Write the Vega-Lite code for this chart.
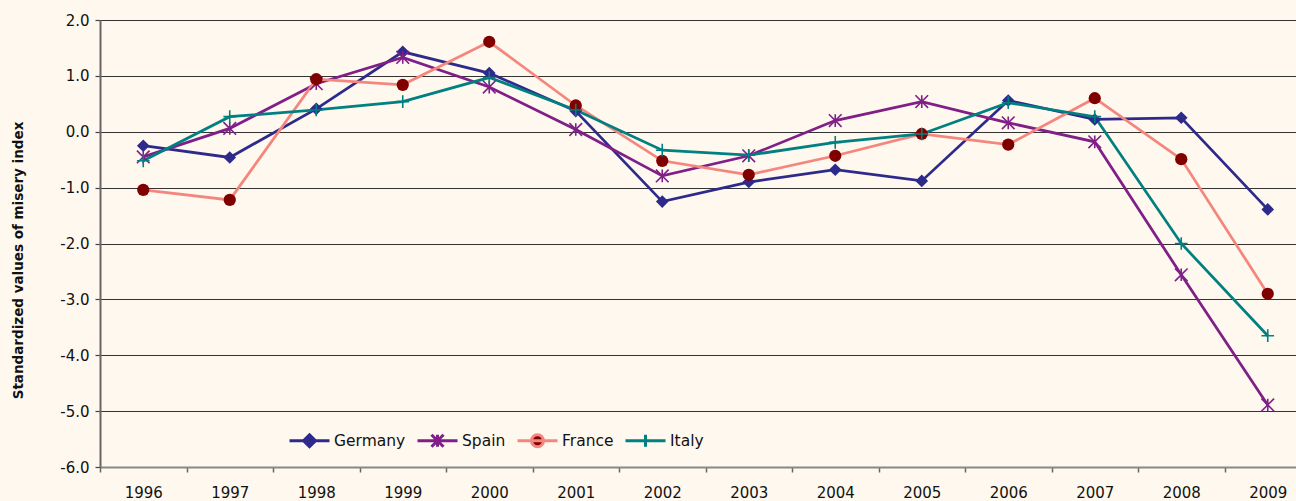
{
  "$schema": "https://vega.github.io/schema/vega-lite/v6.json",
  "width": 1196,
  "height": 447,
  "autosize": {"type": "none"},
  "padding": {"top": 20, "left": 100, "right": 0, "bottom": 34},
  "background": "#FEF8EE",
  "config": {
    "view": {"stroke": null},
    "font": "DejaVu Sans"
  },
  "data": {
    "values": [
      {"year": "1996", "country": "Germany", "value": -0.25},
      {"year": "1997", "country": "Germany", "value": -0.46},
      {"year": "1998", "country": "Germany", "value": 0.41},
      {"year": "1999", "country": "Germany", "value": 1.43},
      {"year": "2000", "country": "Germany", "value": 1.05},
      {"year": "2001", "country": "Germany", "value": 0.37},
      {"year": "2002", "country": "Germany", "value": -1.25},
      {"year": "2003", "country": "Germany", "value": -0.90},
      {"year": "2004", "country": "Germany", "value": -0.68},
      {"year": "2005", "country": "Germany", "value": -0.88},
      {"year": "2006", "country": "Germany", "value": 0.56},
      {"year": "2007", "country": "Germany", "value": 0.22},
      {"year": "2008", "country": "Germany", "value": 0.25},
      {"year": "2009", "country": "Germany", "value": -1.39},
      {"year": "1996", "country": "Spain", "value": -0.45},
      {"year": "1997", "country": "Spain", "value": 0.06},
      {"year": "1998", "country": "Spain", "value": 0.86},
      {"year": "1999", "country": "Spain", "value": 1.33},
      {"year": "2000", "country": "Spain", "value": 0.80},
      {"year": "2001", "country": "Spain", "value": 0.04},
      {"year": "2002", "country": "Spain", "value": -0.79},
      {"year": "2003", "country": "Spain", "value": -0.43},
      {"year": "2004", "country": "Spain", "value": 0.20},
      {"year": "2005", "country": "Spain", "value": 0.54},
      {"year": "2006", "country": "Spain", "value": 0.16},
      {"year": "2007", "country": "Spain", "value": -0.18},
      {"year": "2008", "country": "Spain", "value": -2.56},
      {"year": "2009", "country": "Spain", "value": -4.89},
      {"year": "1996", "country": "France", "value": -1.04},
      {"year": "1997", "country": "France", "value": -1.22},
      {"year": "1998", "country": "France", "value": 0.94},
      {"year": "1999", "country": "France", "value": 0.84},
      {"year": "2000", "country": "France", "value": 1.61},
      {"year": "2001", "country": "France", "value": 0.47},
      {"year": "2002", "country": "France", "value": -0.52},
      {"year": "2003", "country": "France", "value": -0.77},
      {"year": "2004", "country": "France", "value": -0.43},
      {"year": "2005", "country": "France", "value": -0.04},
      {"year": "2006", "country": "France", "value": -0.23},
      {"year": "2007", "country": "France", "value": 0.60},
      {"year": "2008", "country": "France", "value": -0.49},
      {"year": "2009", "country": "France", "value": -2.90},
      {"year": "1996", "country": "Italy", "value": -0.52},
      {"year": "1997", "country": "Italy", "value": 0.27},
      {"year": "1998", "country": "Italy", "value": 0.39},
      {"year": "1999", "country": "Italy", "value": 0.54},
      {"year": "2000", "country": "Italy", "value": 0.97},
      {"year": "2001", "country": "Italy", "value": 0.39},
      {"year": "2002", "country": "Italy", "value": -0.33},
      {"year": "2003", "country": "Italy", "value": -0.42},
      {"year": "2004", "country": "Italy", "value": -0.19},
      {"year": "2005", "country": "Italy", "value": -0.04},
      {"year": "2006", "country": "Italy", "value": 0.52},
      {"year": "2007", "country": "Italy", "value": 0.27},
      {"year": "2008", "country": "Italy", "value": -2.00},
      {"year": "2009", "country": "Italy", "value": -3.65}
    ]
  },
  "encoding": {
    "x": {
      "field": "year",
      "type": "ordinal",
      "scale": {"type": "band", "range": [0, 1211], "paddingInner": 0, "paddingOuter": 0},
      "axis": {
        "title": null,
        "labelAngle": 0,
        "tickBand": "extent",
        "grid": false,
        "domainColor": "#888888",
        "domainWidth": 2,
        "tickColor": "#666666",
        "tickSize": 5,
        "tickWidth": 1.5,
        "labelPadding": 13,
        "labelFontSize": 15,
        "labelColor": "#111111"
      }
    },
    "y": {
      "field": "value",
      "type": "quantitative",
      "scale": {"domain": [-6, 2], "nice": false},
      "axis": {
        "title": "Standardized values of misery index",
        "values": [-6, -5, -4, -3, -2, -1, 0, 1, 2],
        "labelExpr": "replace(format(datum.value, '.1f'), '\u2212', '-')",
        "grid": true,
        "gridColor": "#333333",
        "gridWidth": 1.2,
        "domainColor": "#666666",
        "domainWidth": 2,
        "tickColor": "#444444",
        "tickSize": 5,
        "tickWidth": 1.2,
        "labelPadding": 6,
        "labelFontSize": 15,
        "labelColor": "#111111",
        "titleFont": "DejaVu Sans",
        "titleFontSize": 13.5,
        "titleFontWeight": "bold",
        "titleColor": "#111111",
        "titleX": -82,
        "titleY": 240,
        "titleAngle": 270,
        "titleAlign": "center",
        "titleBaseline": "middle"
      }
    }
  },
  "layer": [
    {
      "mark": {"type": "line", "strokeWidth": 2.75},
      "encoding": {
        "color": {
          "field": "country",
          "type": "nominal",
          "scale": {
            "domain": ["Germany", "Spain", "France", "Italy"],
            "range": ["#2E2A8C", "#7F1F87", "#F4867E", "#008080"]
          },
          "legend": {
            "title": null,
            "orient": "none",
            "legendX": 188,
            "legendY": 399,
            "direction": "horizontal",
            "padding": 0,
            "symbolSize": 1600,
            "symbolStrokeWidth": 3,
            "labelFont": "DejaVu Sans",
            "labelFontSize": 15.5,
            "labelColor": "#111111",
            "labelOffset": 3,
            "columnPadding": 5,
            "encode": {
              "symbols": {
                "update": {
                  "shape": {"signal": "datum.value === 'Germany' ? 'M-1,0H1M0,-0.3L0.3,0L0,0.3L-0.3,0Z' : datum.value === 'Spain' ? 'M-1,0H1M-0.3,-0.3L0.3,0.3M-0.3,0.3L0.3,-0.3M0,-0.3V0.3' : datum.value === 'France' ? 'M-1,0H1M-0.3,0A0.3,0.3 0 1,0 0.3,0A0.3,0.3 0 1,0 -0.3,0Z' : 'M-1,0H1M0,-0.3V0.3'"},
                  "fill": {"signal": "datum.value === 'Germany' ? '#2E2A8C' : datum.value === 'France' ? '#800000' : 'transparent'"},
                  "fillOpacity": {"value": 1}
                }
              }
            }
          }
        }
      }
    },
    {
      "transform": [{"filter": "datum.country === 'Germany'"}],
      "mark": {"type": "point", "shape": "diamond", "size": 160, "filled": true, "color": "#2E2A8C", "opacity": 1}
    },
    {
      "transform": [{"filter": "datum.country === 'Spain'"}],
      "mark": {"type": "point", "shape": "M-1,-1L1,1M-1,1L1,-1M0,-1L0,1", "size": 160, "filled": false, "stroke": "#7F1F87", "strokeWidth": 1.6, "opacity": 1}
    },
    {
      "transform": [{"filter": "datum.country === 'France'"}],
      "mark": {"type": "point", "shape": "circle", "size": 150, "filled": true, "color": "#800000", "opacity": 1}
    },
    {
      "transform": [{"filter": "datum.country === 'Italy'"}],
      "mark": {"type": "point", "shape": "M-1,0H1M0,-1V1", "size": 160, "filled": false, "stroke": "#008080", "strokeWidth": 1.6, "opacity": 1}
    }
  ]
}
